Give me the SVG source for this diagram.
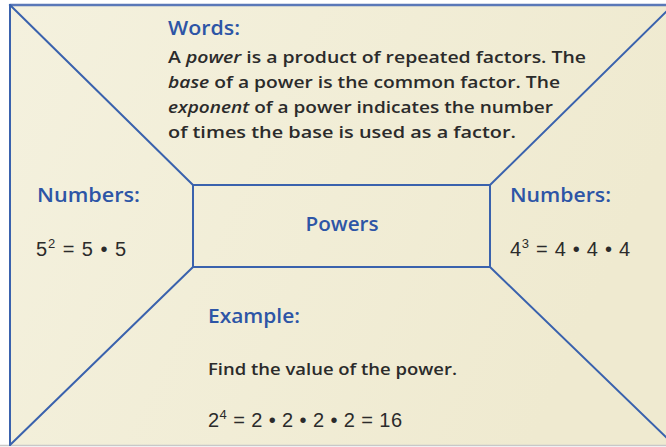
<svg xmlns="http://www.w3.org/2000/svg" width="666" height="447" viewBox="0 0 666 447">
<defs>
<linearGradient id="bg" x1="0" y1="0" x2="1" y2="0.3">
<stop offset="0" stop-color="#f4f1de"/>
<stop offset="1" stop-color="#efead0"/>
</linearGradient>
</defs>
<style>
.ln{stroke:#3a62ad;stroke-width:2;fill:none;stroke-linecap:round}
.ttl{font-family:"Open Sans","Noto Sans",sans-serif;font-weight:600;fill:#2d55a6;font-size:19px}
.body{font-family:"Open Sans","Noto Sans",sans-serif;font-weight:600;fill:#2b2b2b;font-size:17px}
.math{font-family:"Liberation Sans",Arial,sans-serif;fill:#2b2b2b;font-size:20px}
.sup{font-size:13px}
</style>
<rect x="0" y="0" width="666" height="447" fill="#ffffff"/>
<rect x="10" y="5" width="660" height="440" fill="url(#bg)"/>
<line x1="0" y1="445.5" x2="666" y2="445.5" stroke="#c8c8c8" stroke-width="1.5"/>
<g id="connectors">
<line class="ln" x1="10" y1="5" x2="670" y2="5" style="stroke:#5a78b8;stroke-width:2.5"/>
<line class="ln" x1="10" y1="5" x2="10" y2="445"/>
<line class="ln" x1="10" y1="5" x2="193" y2="185"/>
<line class="ln" x1="670" y1="8" x2="490" y2="185"/>
<line class="ln" x1="193" y1="267" x2="10" y2="445"/>
<line class="ln" x1="490" y1="267" x2="668" y2="439"/>
</g>
<g id="powers">
<rect class="ln" x="193" y="185" width="297" height="82"/>
<text class="ttl" x="342" y="231" text-anchor="middle" textLength="73" lengthAdjust="spacingAndGlyphs">Powers</text>
</g>
<g id="words">
<text class="ttl" x="168" y="35" textLength="72" lengthAdjust="spacingAndGlyphs">Words:</text>
<text class="body" x="168" y="63" textLength="418" lengthAdjust="spacingAndGlyphs">A <tspan font-style="italic">power</tspan> is a product of repeated factors. The</text>
<text class="body" x="168" y="88" textLength="392" lengthAdjust="spacingAndGlyphs"><tspan font-style="italic">base</tspan> of a power is the common factor. The</text>
<text class="body" x="168" y="113" textLength="385" lengthAdjust="spacingAndGlyphs"><tspan font-style="italic">exponent</tspan> of a power indicates the number</text>
<text class="body" x="168" y="138" textLength="348" lengthAdjust="spacingAndGlyphs">of times the base is used as a factor.</text>
</g>
<g id="numbers-left">
<text class="ttl" x="37" y="202" textLength="103" lengthAdjust="spacingAndGlyphs">Numbers:</text>
<text class="math" x="36" y="256" textLength="90">5<tspan class="sup" dy="-8">2</tspan><tspan dy="8"> = 5 • 5</tspan></text>
</g>
<g id="numbers-right">
<text class="ttl" x="510" y="202" textLength="101" lengthAdjust="spacingAndGlyphs">Numbers:</text>
<text class="math" x="510" y="256" textLength="120">4<tspan class="sup" dy="-8">3</tspan><tspan dy="8"> = 4 • 4 • 4</tspan></text>
</g>
<g id="example">
<text class="ttl" x="208" y="323" textLength="92" lengthAdjust="spacingAndGlyphs">Example:</text>
<text class="body" x="208" y="375" textLength="249" lengthAdjust="spacingAndGlyphs">Find the value of the power.</text>
<text class="math" x="208" y="427" textLength="194">2<tspan class="sup" dy="-8">4</tspan><tspan dy="8"> = 2 • 2 • 2 • 2 = 16</tspan></text>
</g>
</svg>
